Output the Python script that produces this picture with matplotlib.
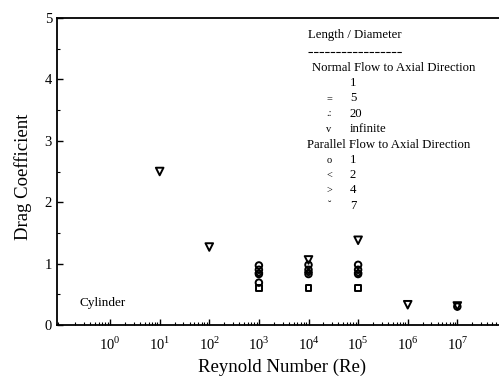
import matplotlib
matplotlib.use('Agg')
import matplotlib.pyplot as plt
from matplotlib.ticker import LogLocator, MultipleLocator, NullFormatter

plt.rcParams['font.family'] = ['Liberation Serif', 'DejaVu Serif']
plt.rcParams['mathtext.fontset'] = 'custom'
plt.rcParams['mathtext.rm'] = 'Liberation Serif'

# drag coefficient readings, grouped by series
re_normal1 = [1e3, 1e4, 1e5]
cd_normal1 = [0.6, 0.6, 0.6]
re_normal5 = [1e3]
cd_normal5 = [0.69]
re_normal20 = [1e3, 1e4, 1e5]
cd_normal20 = [0.83, 0.83, 0.83]
re_normal_inf = [1e1, 1e2, 1e4, 1e5, 1e6, 1e7]
cd_normal_inf = [2.5, 1.27, 1.06, 1.38, 0.33, 0.31]
re_par1 = [1e3, 1e4, 1e5, 1e7]
cd_par1 = [0.97, 0.98, 0.98, 0.3]
re_par2 = [1e3, 1e4, 1e5]
cd_par2 = [0.9, 0.9, 0.9]
re_par4 = [1e3, 1e4, 1e5]
cd_par4 = [0.85, 0.86, 0.85]

legend_title = 'Length / Diameter'
normal_head = 'Normal Flow to Axial Direction'
normal_keys = [('', '1'), ('=', '5'), ('.:', '20'), ('v', 'infinite')]
par_head = 'Parallel Flow to Axial Direction'
par_keys = [('o', '1'), ('<', '2'), ('>', '4'), ('˘', '7')]

fig = plt.figure(figsize=(4.99, 3.8), dpi=100)
ax = fig.add_axes([0.1142, 0.1447, 0.8858, 0.8079])

mk = dict(facecolor='none', edgecolor='black', linewidths=1.4, zorder=3)
ax.scatter(re_normal1, cd_normal1, marker='s', s=16, **mk)
ax.scatter(re_normal5, cd_normal5, marker='o', s=22, **mk)
ax.scatter(re_normal20, cd_normal20, marker='o', s=22, **mk)
ax.scatter(re_normal_inf, cd_normal_inf, marker='v', s=30, **mk)
ax.scatter(re_par1, cd_par1, marker='o', s=22, **mk)
ax.scatter(re_par2, cd_par2, marker='o', s=22, **mk)
ax.scatter(re_par4, cd_par4, marker='D', s=12, **mk)

ax.set_xscale('log')
ax.set_xlim(10 ** -1.07, 10 ** 7.84)
ax.set_ylim(0, 5)
ax.spines['right'].set_visible(False)
for s in ax.spines.values():
    s.set_linewidth(1.3)

ax.xaxis.set_major_locator(LogLocator(base=10, numticks=20))
ax.xaxis.set_minor_locator(LogLocator(base=10, subs=range(2, 10), numticks=20))
ax.xaxis.set_minor_formatter(NullFormatter())
ax.set_xticks([10 ** k for k in range(0, 8)])
ax.set_xticklabels(['$10^{%d}$' % k for k in range(0, 8)])
ax.yaxis.set_major_locator(MultipleLocator(1))
ax.yaxis.set_minor_locator(MultipleLocator(0.5))
ax.tick_params(which='both', direction='in', top=False, right=False, labelsize=10.5)
ax.tick_params(which='major', length=4, width=1)
ax.tick_params(which='minor', length=2, width=0.8)
ax.tick_params(axis='x', pad=8)


def fx(px):
    return (px - 57) / 442.0


def fy(py):
    return (325 - py) / 307.0


ax.set_xlabel('Reynold Number (Re)', fontsize=13.5)
ax.xaxis.set_label_coords(fx(282), fy(359))
ax.set_ylabel('Drag Coefficient', fontsize=13.5)
ax.yaxis.set_label_coords(fx(32), fy(177))

ax.text(fx(80), fy(303), 'Cylinder', transform=ax.transAxes, fontsize=9.5,
        va='center')

# hand-built legend block
ax.text(fx(308), fy(35), legend_title, transform=ax.transAxes, fontsize=9.2,
        va='center')
ax.plot([fx(308), fx(402)], [fy(52), fy(52)], transform=ax.transAxes,
        color='black', lw=0.8, ls=(0, (4, 1)))
ax.text(fx(312), fy(68), normal_head, transform=ax.transAxes, fontsize=9.2,
        va='center')
for i, (m, lab) in enumerate(normal_keys):
    y = fy(83 + i * 15.4)
    ax.text(fx(329), y, m, transform=ax.transAxes, fontsize=7.5, va='center',
            ha='center')
    ax.text(fx(350), y, lab, transform=ax.transAxes, fontsize=9.2, va='center')
ax.text(fx(307), fy(145), par_head, transform=ax.transAxes, fontsize=9.2,
        va='center')
for i, (m, lab) in enumerate(par_keys):
    y = fy(160 + i * 15.2)
    ax.text(fx(329), y, m, transform=ax.transAxes, fontsize=7.5, va='center',
            ha='center')
    ax.text(fx(350), y, lab, transform=ax.transAxes, fontsize=9.2, va='center')

fig.savefig('out.png', dpi=100)
